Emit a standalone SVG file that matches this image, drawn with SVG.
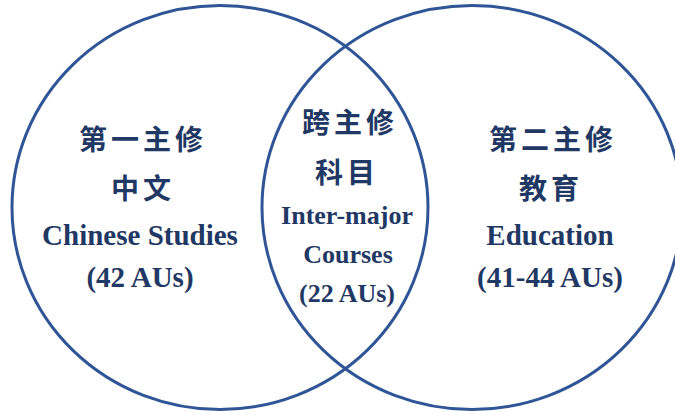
<svg xmlns="http://www.w3.org/2000/svg" width="675" height="412" viewBox="0 0 675 412">
  <style>
    .ring { fill: none; stroke: #2F5597; stroke-width: 3; }
    .zh { font-family: "Liberation Serif", "Noto Sans CJK SC", serif; font-weight: bold; font-size: 28px; fill: #1F3864; text-anchor: middle; letter-spacing: 4px; }
    .en { font-family: "Liberation Serif", "Noto Sans CJK SC", serif; font-weight: bold; font-size: 29px; fill: #1F3864; text-anchor: middle; }
    .en-mid { font-size: 26px; }
  </style>
  <rect width="675" height="412" fill="#ffffff"/>
  <g id="node-chinese">
    <ellipse class="ring" cx="220" cy="207.5" rx="208" ry="202"/>
    <text class="zh" x="143" y="150">第一主修</text>
    <text class="zh" x="143" y="199">中文</text>
    <text class="en" x="140" y="245">Chinese Studies</text>
    <text class="en" x="140" y="287">(42 AUs)</text>
  </g>
  <g id="node-education">
    <ellipse class="ring" cx="472" cy="207.5" rx="210" ry="202"/>
    <text class="zh" x="553" y="150">第二主修</text>
    <text class="zh" x="551" y="199">教育</text>
    <text class="en" x="550" y="245">Education</text>
    <text class="en" x="550" y="287">(41-44 AUs)</text>
  </g>
  <g id="node-inter">
    <text class="zh" x="350" y="133">跨主修</text>
    <text class="zh" x="347" y="183">科目</text>
    <text class="en en-mid" x="347" y="224">Inter-major</text>
    <text class="en en-mid" x="348" y="263">Courses</text>
    <text class="en en-mid" x="347" y="302">(22 AUs)</text>
  </g>
  <g id="connectors"/>
</svg>
